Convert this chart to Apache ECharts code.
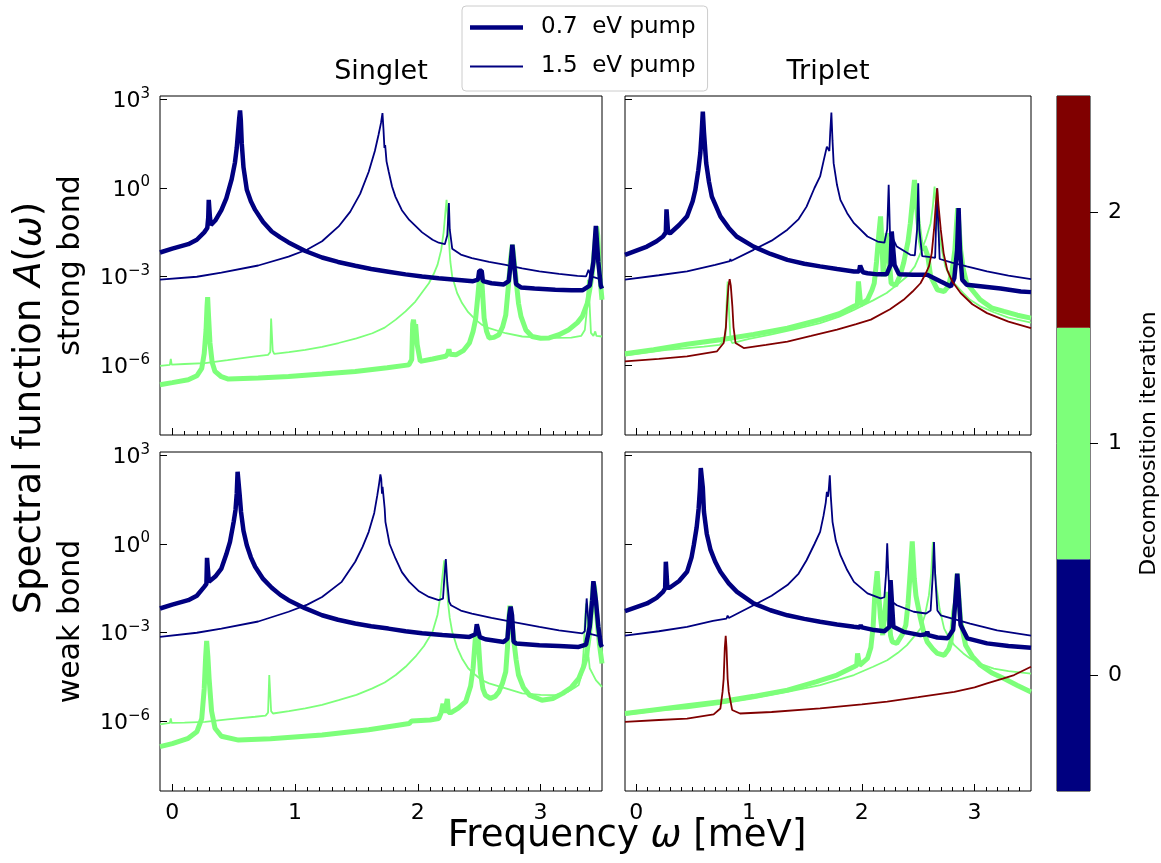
<!DOCTYPE html>
<html><head><meta charset="utf-8">
<script src="https://cdn.jsdelivr.net/npm/echarts@6/dist/echarts.min.js"></script>
<style>html,body{margin:0;padding:0;background:#fff}#c{width:1161px;height:863px}</style>
</head><body><div id="c"></div>
<script>
// ---------- labels / ticks ----------
const panelTitles = ['Singlet', 'Triplet'];
const rowLabels = ['strong bond', 'weak bond'];
const legendNames = ['0.7  eV pump', '1.5  eV pump'];
const xTickValues = [0, 1, 2, 3];
const yTickExponents = [-6, -3, 0, 3];          // log10 A
const colorbarLabels = ['0', '1', '2'];
const colorbarTitle = 'Decomposition iteration';

// ---------- data: [omega (meV), log10 A(omega)] ----------
// strong bond, singlet
const strongSing_07_it0 = [[-0.10,-2.18],[0.00,-2.05],[0.13,-1.90],[0.20,-1.75],[0.26,-1.50],[0.285,-1.35],[0.293,-1.0],[0.297,-0.40],[0.303,-0.40],[0.307,-1.0],[0.315,-1.25],[0.35,-1.10],[0.40,-0.75],[0.44,-0.35],[0.484,0.30],[0.51,0.85],[0.525,1.35],[0.535,1.85],[0.545,2.35],[0.552,2.62],[0.558,2.30],[0.566,1.50],[0.58,0.70],[0.607,-0.06],[0.64,-0.45],[0.675,-0.74],[0.74,-1.15],[0.81,-1.47],[0.88,-1.67],[0.947,-1.84],[1.083,-2.13],[1.22,-2.35],[1.35,-2.50],[1.49,-2.63],[1.62,-2.74],[1.76,-2.83],[1.90,-2.92],[2.035,-2.99],[2.17,-3.05],[2.31,-3.10],[2.45,-3.15],[2.49,-3.10],[2.50,-2.80],[2.52,-2.80],[2.53,-3.15],[2.60,-3.22],[2.70,-3.26],[2.74,-3.15],[2.755,-2.6],[2.77,-1.92],[2.785,-2.6],[2.80,-3.25],[2.84,-3.36],[2.95,-3.40],[3.12,-3.44],[3.25,-3.46],[3.34,-3.46],[3.40,-3.30],[3.43,-2.50],[3.45,-1.28],[3.47,-2.50],[3.49,-3.3],[3.50,-3.4]];
const strongSing_15_it0 = [[-0.10,-3.10],[0.20,-3.0],[0.40,-2.86],[0.70,-2.62],[0.947,-2.32],[1.10,-2.08],[1.22,-1.80],[1.355,-1.30],[1.45,-0.80],[1.53,-0.20],[1.60,0.55],[1.65,1.25],[1.68,1.80],[1.70,2.20],[1.712,2.53],[1.72,2.00],[1.728,1.35],[1.734,1.45],[1.738,1.40],[1.745,0.90],[1.763,0.55],[1.79,0.05],[1.818,-0.30],[1.87,-0.75],[1.93,-1.08],[2.035,-1.50],[2.12,-1.75],[2.17,-1.85],[2.22,-1.90],[2.24,-1.6],[2.253,-0.51],[2.26,-1.4],[2.28,-2.05],[2.35,-2.25],[2.44,-2.37],[2.58,-2.50],[2.716,-2.60],[2.85,-2.72],[2.99,-2.82],[3.15,-2.90],[3.30,-2.97],[3.37,-2.99],[3.39,-2.77],[3.41,-2.99],[3.50,-3.10]];
const strongSing_07_it1 = [[-0.10,-6.65],[0.00,-6.58],[0.13,-6.48],[0.20,-6.35],[0.24,-6.10],[0.26,-5.60],[0.275,-4.80],[0.283,-4.0],[0.288,-3.69],[0.295,-4.3],[0.307,-5.24],[0.325,-5.90],[0.348,-6.20],[0.40,-6.38],[0.457,-6.46],[0.70,-6.42],[0.947,-6.37],[1.22,-6.29],[1.49,-6.20],[1.75,-6.08],[1.927,-5.98],[1.95,-5.8],[1.958,-4.6],[1.965,-4.45],[1.975,-4.9],[1.982,-4.6],[1.988,-4.57],[1.995,-5.3],[2.02,-5.86],[2.12,-5.78],[2.226,-5.69],[2.245,-5.6],[2.253,-5.45],[2.262,-5.62],[2.31,-5.64],[2.37,-5.50],[2.42,-5.24],[2.45,-4.85],[2.47,-4.45],[2.49,-3.60],[2.505,-2.90],[2.515,-2.82],[2.525,-3.40],[2.54,-4.40],[2.56,-4.85],[2.58,-5.07],[2.62,-5.05],[2.66,-4.96],[2.69,-4.70],[2.716,-4.30],[2.74,-3.20],[2.755,-2.40],[2.77,-1.92],[2.785,-2.50],[2.80,-3.10],[2.82,-3.90],[2.84,-4.34],[2.88,-4.80],[2.93,-5.02],[3.00,-5.08],[3.07,-5.07],[3.15,-4.96],[3.23,-4.79],[3.30,-4.55],[3.34,-4.34],[3.38,-3.90],[3.40,-3.44],[3.42,-2.90],[3.44,-2.00],[3.456,-1.30],[3.465,-1.60],[3.475,-2.50],[3.485,-3.10],[3.50,-3.78]];
const strongSing_15_it1 = [[-0.10,-6.01],[-0.02,-5.98],[-0.012,-5.78],[-0.005,-5.97],[0.10,-5.95],[0.267,-5.92],[0.45,-5.82],[0.675,-5.69],[0.78,-5.64],[0.798,-5.55],[0.805,-4.41],[0.812,-4.41],[0.818,-5.50],[0.83,-5.61],[0.95,-5.55],[1.083,-5.47],[1.22,-5.37],[1.355,-5.24],[1.50,-5.08],[1.63,-4.91],[1.73,-4.72],[1.82,-4.45],[1.90,-4.17],[1.98,-3.84],[2.04,-3.50],[2.09,-3.22],[2.13,-2.90],[2.16,-2.60],[2.19,-2.10],[2.21,-1.50],[2.225,-0.80],[2.234,-0.40],[2.243,-0.90],[2.253,-1.75],[2.265,-2.50],[2.28,-2.99],[2.32,-3.55],[2.36,-3.89],[2.41,-4.20],[2.47,-4.45],[2.52,-4.62],[2.58,-4.74],[2.716,-4.91],[2.85,-5.02],[3.00,-5.06],[3.12,-5.07],[3.25,-5.06],[3.33,-5.0],[3.36,-4.80],[3.375,-4.2],[3.385,-3.10],[3.395,-3.6],[3.41,-4.90],[3.43,-5.0],[3.445,-4.85],[3.455,-5.0],[3.50,-5.02]];

// strong bond, triplet
const strongTrip_07_it0 = [[-0.10,-2.26],[0.095,-1.98],[0.18,-1.80],[0.237,-1.64],[0.262,-1.50],[0.268,-0.72],[0.276,-0.72],[0.282,-1.50],[0.30,-1.53],[0.38,-1.25],[0.45,-0.96],[0.50,-0.45],[0.524,-0.06],[0.55,0.60],[0.568,1.18],[0.58,1.90],[0.59,2.58],[0.60,1.90],[0.62,0.84],[0.645,0.20],[0.67,-0.29],[0.746,-0.96],[0.82,-1.35],[0.89,-1.64],[1.04,-1.98],[1.19,-2.23],[1.34,-2.43],[1.49,-2.56],[1.63,-2.65],[1.78,-2.74],[1.93,-2.82],[1.975,-2.82],[1.985,-2.62],[2.00,-2.62],[2.01,-2.85],[2.05,-2.88],[2.14,-2.92],[2.22,-2.92],[2.255,-2.6],[2.265,-1.47],[2.28,-1.47],[2.29,-2.6],[2.33,-2.92],[2.45,-2.93],[2.58,-2.93],[2.70,-3.16],[2.79,-3.33],[2.82,-3.05],[2.845,-2.1],[2.858,-0.68],[2.87,-2.1],[2.89,-3.10],[2.93,-3.27],[3.05,-3.32],[3.23,-3.40],[3.41,-3.50],[3.50,-3.52]];
const strongTrip_15_it0 = [[-0.10,-3.10],[0.20,-2.95],[0.45,-2.82],[0.70,-2.60],[0.83,-2.47],[0.834,-2.40],[0.84,-2.47],[1.04,-2.09],[1.20,-1.78],[1.34,-1.41],[1.44,-1.05],[1.51,-0.63],[1.58,0.0],[1.63,0.39],[1.66,0.90],[1.69,1.40],[1.70,1.40],[1.712,1.25],[1.72,1.90],[1.73,2.55],[1.74,1.60],[1.75,0.84],[1.78,0.10],[1.81,-0.40],[1.87,-0.85],[1.93,-1.19],[2.05,-1.64],[2.14,-1.81],[2.20,-1.85],[2.225,-1.4],[2.238,0.11],[2.25,-1.6],[2.265,-1.75],[2.272,-1.6],[2.28,-1.75],[2.31,-1.98],[2.43,-2.26],[2.47,-2.28],[2.49,-1.4],[2.50,0.16],[2.51,-1.4],[2.535,-2.30],[2.61,-2.34],[2.65,-2.36],[2.66,-1.0],[2.668,-0.01],[2.676,-1.0],[2.69,-2.40],[2.80,-2.52],[2.93,-2.65],[3.11,-2.82],[3.30,-2.96],[3.50,-3.08]];
const strongTrip_07_it1 = [[-0.10,-5.60],[0.154,-5.47],[0.45,-5.28],[0.746,-5.13],[1.04,-4.95],[1.34,-4.74],[1.63,-4.45],[1.80,-4.25],[1.93,-4.0],[1.96,-3.95],[1.97,-3.16],[1.98,-3.16],[1.99,-3.95],[2.05,-3.78],[2.09,-3.45],[2.11,-3.22],[2.13,-2.50],[2.15,-1.60],[2.166,-0.96],[2.175,-1.6],[2.19,-2.99],[2.205,-2.3],[2.225,-1.53],[2.24,-2.3],[2.26,-3.22],[2.30,-3.30],[2.34,-2.95],[2.37,-2.54],[2.41,-1.80],[2.43,-1.19],[2.45,-0.40],[2.467,0.27],[2.48,-0.40],[2.50,-1.19],[2.52,-1.80],[2.535,-2.09],[2.555,-1.98],[2.57,-1.98],[2.585,-2.30],[2.61,-2.99],[2.67,-3.44],[2.73,-3.50],[2.77,-3.30],[2.80,-2.80],[2.825,-2.09],[2.84,-1.2],[2.85,-0.68],[2.86,-1.2],[2.876,-2.09],[2.90,-2.75],[2.93,-3.22],[3.00,-3.55],[3.05,-3.78],[3.15,-4.05],[3.26,-4.17],[3.38,-4.30],[3.50,-4.40]];
const strongTrip_15_it1 = [[-0.10,-5.67],[0.25,-5.48],[0.60,-5.36],[0.74,-5.30],[0.79,-5.1],[0.80,-4.0],[0.81,-3.16],[0.82,-4.0],[0.835,-5.1],[0.85,-5.24],[1.00,-5.10],[1.19,-4.96],[1.40,-4.78],[1.63,-4.57],[1.80,-4.35],[1.93,-4.12],[2.10,-3.80],[2.22,-3.55],[2.32,-3.25],[2.40,-2.99],[2.47,-2.65],[2.52,-2.20],[2.57,-1.70],[2.61,-1.19],[2.63,-0.60],[2.645,0.05],[2.66,-0.70],[2.68,-1.41],[2.71,-2.10],[2.74,-2.65],[2.78,-3.00],[2.82,-3.22],[2.90,-3.55],[2.96,-3.78],[3.05,-4.0],[3.17,-4.20],[3.30,-4.38],[3.50,-4.55]];
const strongTrip_it2 = [[-0.10,-5.86],[0.20,-5.78],[0.45,-5.69],[0.716,-5.52],[0.775,-5.24],[0.795,-4.70],[0.805,-4.0],[0.818,-3.30],[0.828,-3.08],[0.838,-3.30],[0.852,-4.0],[0.862,-4.70],[0.88,-5.24],[0.953,-5.41],[1.15,-5.30],[1.34,-5.19],[1.55,-5.00],[1.78,-4.79],[1.95,-4.60],[2.08,-4.45],[2.25,-4.10],[2.37,-3.78],[2.45,-3.50],[2.52,-3.22],[2.565,-2.90],[2.595,-2.65],[2.62,-2.20],[2.64,-1.41],[2.655,-0.60],[2.668,-0.01],[2.68,-0.60],[2.70,-1.41],[2.725,-2.20],[2.757,-2.77],[2.80,-3.15],[2.876,-3.55],[2.98,-3.93],[3.11,-4.23],[3.30,-4.52],[3.50,-4.74]];

// weak bond, singlet
const weakSing_07_it0 = [[-0.10,-2.18],[0.00,-2.05],[0.13,-1.90],[0.20,-1.75],[0.26,-1.45],[0.278,-1.35],[0.283,-0.47],[0.292,-0.47],[0.298,-1.28],[0.307,-1.28],[0.35,-1.10],[0.40,-0.83],[0.44,-0.35],[0.47,0.07],[0.50,0.75],[0.515,1.15],[0.525,1.70],[0.532,2.44],[0.54,2.44],[0.548,1.70],[0.56,1.08],[0.58,0.45],[0.607,-0.04],[0.64,-0.45],[0.675,-0.77],[0.74,-1.18],[0.81,-1.48],[0.88,-1.72],[0.947,-1.90],[1.08,-2.17],[1.22,-2.41],[1.35,-2.56],[1.49,-2.69],[1.62,-2.78],[1.76,-2.86],[1.90,-2.95],[2.035,-3.02],[2.20,-3.08],[2.42,-3.14],[2.47,-3.05],[2.48,-2.71],[2.495,-2.71],[2.505,-3.15],[2.55,-3.22],[2.70,-3.31],[2.73,-3.20],[2.745,-2.4],[2.756,-2.12],[2.767,-2.4],[2.78,-3.30],[2.80,-3.36],[2.99,-3.42],[3.15,-3.45],[3.31,-3.48],[3.37,-3.40],[3.40,-2.8],[3.42,-1.9],[3.43,-1.26],[3.44,-1.26],[3.45,-1.9],[3.47,-2.8],[3.49,-3.4],[3.50,-3.48]];
const weakSing_15_it0 = [[-0.10,-3.14],[0.20,-3.00],[0.40,-2.86],[0.70,-2.62],[0.947,-2.29],[1.10,-2.05],[1.22,-1.79],[1.38,-1.28],[1.49,-0.60],[1.55,-0.10],[1.60,0.41],[1.645,1.05],[1.67,1.65],[1.685,2.05],[1.695,2.35],[1.702,2.20],[1.708,1.70],[1.713,1.93],[1.72,1.90],[1.73,1.20],[1.736,0.75],[1.77,0.0],[1.818,-0.49],[1.87,-0.95],[1.93,-1.28],[2.01,-1.60],[2.09,-1.79],[2.17,-1.90],[2.205,-1.85],[2.215,-1.2],[2.228,-0.51],[2.24,-1.3],[2.255,-1.95],[2.27,-2.07],[2.35,-2.25],[2.44,-2.35],[2.60,-2.50],[2.77,-2.63],[2.99,-2.80],[3.15,-2.92],[3.34,-3.02],[3.36,-2.95],[3.375,-1.84],[3.385,-1.84],[3.395,-2.95],[3.41,-3.05],[3.50,-3.14]];
const weakSing_07_it1 = [[-0.10,-6.85],[0.00,-6.75],[0.13,-6.57],[0.20,-6.35],[0.24,-5.90],[0.26,-4.90],[0.272,-3.80],[0.28,-3.28],[0.29,-3.80],[0.30,-4.55],[0.32,-5.65],[0.348,-6.23],[0.40,-6.50],[0.54,-6.63],[0.80,-6.58],[1.22,-6.46],[1.60,-6.28],[1.93,-6.07],[1.95,-5.98],[1.96,-6.02],[2.10,-5.95],[2.17,-5.90],[2.19,-5.70],[2.205,-5.40],[2.215,-5.70],[2.23,-5.45],[2.24,-5.24],[2.25,-5.70],[2.27,-5.70],[2.33,-5.55],[2.39,-5.33],[2.43,-4.80],[2.45,-4.20],[2.47,-3.10],[2.484,-2.80],[2.495,-3.40],[2.51,-4.35],[2.53,-4.90],[2.55,-5.11],[2.59,-5.22],[2.63,-5.15],[2.66,-5.00],[2.69,-4.70],[2.716,-4.32],[2.73,-3.50],[2.74,-2.60],[2.75,-2.09],[2.765,-2.60],[2.78,-3.20],[2.80,-3.90],[2.82,-4.43],[2.86,-4.85],[2.91,-5.11],[3.01,-5.28],[3.10,-5.22],[3.18,-5.05],[3.25,-4.85],[3.31,-4.55],[3.35,-4.15],[3.37,-3.87],[3.39,-3.30],[3.40,-2.97],[3.415,-2.2],[3.43,-1.30],[3.44,-1.5],[3.455,-2.3],[3.47,-3.0],[3.48,-3.42],[3.50,-4.04]];
const weakSing_15_it1 = [[-0.10,-6.10],[-0.02,-6.05],[-0.012,-5.90],[-0.005,-6.05],[0.10,-6.04],[0.267,-6.01],[0.45,-5.93],[0.675,-5.84],[0.76,-5.80],[0.78,-5.70],[0.79,-4.43],[0.797,-4.43],[0.805,-5.65],[0.82,-5.73],[0.95,-5.65],[1.083,-5.56],[1.22,-5.44],[1.355,-5.28],[1.50,-5.10],[1.63,-4.88],[1.73,-4.68],[1.82,-4.43],[1.90,-4.15],[1.98,-3.81],[2.05,-3.45],[2.12,-2.97],[2.16,-2.40],[2.185,-1.73],[2.20,-1.10],[2.215,-0.55],[2.23,-1.10],[2.245,-1.95],[2.26,-2.50],[2.28,-2.97],[2.32,-3.50],[2.36,-3.87],[2.41,-4.20],[2.47,-4.43],[2.52,-4.60],[2.58,-4.71],[2.716,-4.88],[2.85,-5.05],[3.00,-5.10],[3.12,-5.11],[3.22,-5.00],[3.28,-4.85],[3.31,-4.77],[3.335,-4.40],[3.35,-3.64],[3.36,-2.70],[3.37,-2.01],[3.38,-2.70],[3.39,-3.80],[3.40,-4.20],[3.41,-4.25],[3.415,-4.15],[3.425,-4.40],[3.45,-4.60],[3.50,-4.83]];

// weak bond, triplet
const weakTrip_07_it0 = [[-0.10,-2.27],[0.095,-2.01],[0.18,-1.82],[0.237,-1.62],[0.256,-1.50],[0.262,-0.60],[0.27,-0.60],[0.276,-1.48],[0.296,-1.48],[0.38,-1.25],[0.45,-0.94],[0.49,-0.45],[0.51,-0.04],[0.535,0.55],[0.553,1.20],[0.565,1.90],[0.572,2.57],[0.582,2.57],[0.59,1.90],[0.60,1.09],[0.625,0.35],[0.657,-0.18],[0.70,-0.60],[0.746,-0.94],[0.82,-1.33],[0.893,-1.62],[1.04,-2.01],[1.19,-2.24],[1.34,-2.41],[1.49,-2.53],[1.63,-2.63],[1.78,-2.72],[1.93,-2.80],[1.98,-2.82],[1.99,-2.75],[2.00,-2.82],[2.11,-2.91],[2.20,-2.95],[2.245,-2.80],[2.255,-1.22],[2.268,-1.22],[2.28,-2.80],[2.37,-2.97],[2.52,-3.08],[2.57,-3.05],[2.58,-2.97],[2.59,-3.08],[2.67,-3.16],[2.76,-3.19],[2.81,-2.90],[2.835,-1.6],[2.846,-1.00],[2.857,-1.6],[2.876,-2.74],[2.935,-3.19],[3.11,-3.36],[3.30,-3.45],[3.50,-3.51]];
const weakTrip_15_it0 = [[-0.10,-3.10],[0.20,-2.95],[0.45,-2.80],[0.68,-2.60],[0.80,-2.52],[0.81,-2.42],[0.82,-2.50],[1.04,-2.07],[1.20,-1.75],[1.34,-1.39],[1.44,-1.00],[1.51,-0.55],[1.58,0.0],[1.63,0.41],[1.66,0.95],[1.68,1.40],[1.69,1.76],[1.70,1.60],[1.708,1.90],[1.716,2.32],[1.725,1.60],[1.74,0.75],[1.77,0.10],[1.81,-0.38],[1.87,-0.88],[1.93,-1.28],[2.05,-1.67],[2.166,-1.84],[2.20,-1.80],[2.215,-1.0],[2.225,0.02],[2.235,-1.0],[2.25,-1.90],[2.31,-2.07],[2.46,-2.29],[2.57,-2.35],[2.61,-2.25],[2.63,-1.0],[2.64,0.07],[2.65,-1.0],[2.67,-2.25],[2.70,-2.41],[2.96,-2.69],[3.20,-2.92],[3.50,-3.10]];
const weakTrip_07_it1 = [[-0.10,-5.73],[0.154,-5.61],[0.45,-5.47],[0.746,-5.33],[1.04,-5.15],[1.34,-4.94],[1.60,-4.65],[1.78,-4.43],[1.93,-4.15],[1.955,-4.10],[1.962,-3.70],[1.97,-3.70],[1.98,-4.10],[2.05,-3.87],[2.08,-3.50],[2.10,-2.80],[2.115,-1.73],[2.136,-0.92],[2.15,-1.73],[2.166,-2.50],[2.185,-3.08],[2.205,-2.30],[2.222,-1.62],[2.235,-2.20],[2.255,-3.10],[2.27,-3.31],[2.31,-3.36],[2.36,-3.05],[2.39,-2.74],[2.41,-2.00],[2.425,-1.17],[2.447,0.09],[2.465,-1.17],[2.48,-1.75],[2.52,-2.52],[2.55,-3.00],[2.58,-3.31],[2.63,-3.55],[2.67,-3.70],[2.73,-3.76],[2.77,-3.55],[2.79,-3.31],[2.805,-2.70],[2.815,-2.29],[2.83,-2.00],[2.846,-1.00],[2.86,-1.8],[2.876,-2.60],[2.92,-3.42],[2.98,-3.80],[3.05,-4.09],[3.15,-4.35],[3.26,-4.55],[3.38,-4.78],[3.50,-5.00]];
const weakTrip_15_it1 = [[-0.10,-5.78],[0.20,-5.62],[0.45,-5.56],[0.75,-5.40],[1.04,-5.22],[1.34,-5.00],[1.63,-4.77],[1.93,-4.43],[2.10,-4.15],[2.225,-3.93],[2.32,-3.68],[2.40,-3.42],[2.47,-3.10],[2.52,-2.86],[2.56,-2.40],[2.595,-1.73],[2.615,-1.00],[2.63,0.07],[2.645,-0.80],[2.66,-1.39],[2.69,-2.20],[2.73,-2.86],[2.78,-3.22],[2.82,-3.42],[2.90,-3.70],[2.96,-3.87],[3.05,-4.05],[3.17,-4.21],[3.30,-4.30],[3.50,-4.38]];
const weakTrip_it2 = [[-0.10,-6.01],[0.20,-5.95],[0.45,-5.90],[0.686,-5.76],[0.746,-5.56],[0.765,-5.00],[0.775,-4.55],[0.785,-3.50],[0.793,-3.10],[0.80,-3.50],[0.81,-4.55],[0.82,-5.00],[0.85,-5.61],[0.92,-5.73],[1.20,-5.68],[1.63,-5.56],[2.00,-5.42],[2.225,-5.33],[2.50,-5.18],[2.82,-5.00],[3.00,-4.85],[3.11,-4.71],[3.25,-4.55],[3.35,-4.43],[3.50,-4.15]];

// ---------- style ----------
const FONT = 'DejaVu Sans';
const C0 = '#000080', C1 = '#7dff7a', C2 = '#800000';
const THICK = 4.5, THIN = 1.8;

const grids = [
  {left:160, top:96, width:442, height:339},
  {left:625, top:96, width:406, height:339},
  {left:160, top:452, width:442, height:339},
  {left:625, top:452, width:406, height:339}
];
const minorX = [];
for (let k = 1; k <= 34; k++) if (k % 10 !== 0) minorX.push(k / 10);

const xAxes = [], yAxes = [];
grids.forEach((g, i) => {
  const bottom = i >= 2, left = i % 2 === 0;
  xAxes.push({gridIndex:i, type:'value', min:-0.1, max:3.5, position:'bottom', axisLine:{show:false, onZero:false}, splitLine:{show:false},
    axisTick:{show:true, inside:true, length:7, customValues:xTickValues, lineStyle:{color:'#000', width:1}},
    axisLabel:{show:bottom, customValues:xTickValues, margin:11, fontSize:22, fontFamily:FONT, color:'#000'}});
  yAxes.push({gridIndex:i, type:'value', min:-8.35, max:3.11, position:'left', axisLine:{show:false, onZero:false}, splitLine:{show:false},
    axisTick:{show:true, inside:true, length:7, customValues:yTickExponents, lineStyle:{color:'#000', width:1}},
    axisLabel:{show:left, customValues:yTickExponents, margin:10,
      formatter: v => '{b|10}{s|' + (v < 0 ? '\u2212' + Math.abs(v) : v) + '}',
      rich:{b:{fontSize:22, fontFamily:FONT, color:'#000', lineHeight:26, verticalAlign:'bottom'},
            s:{fontSize:15, fontFamily:FONT, color:'#000', lineHeight:14, verticalAlign:'top'}}},
    name: left ? rowLabels[bottom ? 1 : 0] : '', nameLocation:'middle', nameGap:74,
    nameTextStyle:{fontSize:30, fontFamily:FONT, color:'#000'}});
});
grids.forEach((g, i) => {
  xAxes.push({gridIndex:i, type:'value', min:-0.1, max:3.5, position:'bottom', axisLine:{show:false, onZero:false}, splitLine:{show:false},
    axisTick:{show:true, inside:true, length:4, customValues:minorX, lineStyle:{color:'#000', width:1}},
    axisLabel:{show:false}});
});
// colorbar grid (index 4); its x axis is xAxes[8]
const cbGrid = {left:1057, top:96, width:35, height:695};
xAxes.push({gridIndex:4, type:'value', min:0, max:1, show:false});
yAxes.push({gridIndex:4, type:'category', data:colorbarLabels, position:'right', axisLine:{show:false, onZero:false},
  axisTick:{show:true, alignWithLabel:true, length:8, lineStyle:{color:'#000', width:1}},
  axisLabel:{margin:18, fontSize:22, fontFamily:FONT, color:'#000'},
  name:colorbarTitle, nameLocation:'middle', nameGap:48, nameRotate:90,
  nameTextStyle:{fontSize:22, fontFamily:FONT, color:'#000'}});

function line(i, name, data, color, width) {
  return {type:'line', name, xAxisIndex:i, yAxisIndex:i, data, color, showSymbol:false, symbol:'none',
    lineStyle:{color, width}, itemStyle:{color}, animation:false, silent:true, clip:true};
}
const panels = [
  [strongSing_07_it0, strongSing_15_it0, strongSing_07_it1, strongSing_15_it1, null],
  [strongTrip_07_it0, strongTrip_15_it0, strongTrip_07_it1, strongTrip_15_it1, strongTrip_it2],
  [weakSing_07_it0, weakSing_15_it0, weakSing_07_it1, weakSing_15_it1, null],
  [weakTrip_07_it0, weakTrip_15_it0, weakTrip_07_it1, weakTrip_15_it1, weakTrip_it2]
];
const series = [];
panels.forEach((p, i) => {
  series.push(line(i, 'it1 0.7', p[2], C1, THICK + 0.5));
  series.push(line(i, 'it1 1.5', p[3], C1, THIN));
  series.push(line(i, legendNames[0], p[0], C0, THICK));
  series.push(line(i, legendNames[1], p[1], C0, THIN));
  if (p[4]) series.push(line(i, 'it2', p[4], C2, THIN));
});
series.push({type:'bar', name:'colorbar', xAxisIndex:8, yAxisIndex:4, barWidth:'100%', barCategoryGap:'0%', animation:false, silent:true,
  data:[{value:1, itemStyle:{color:C0}}, {value:1, itemStyle:{color:C1}}, {value:1, itemStyle:{color:C2}}]});

const gridOpts = grids.concat([cbGrid]).map(g => Object.assign({show:true, borderColor:'#000', borderWidth:1, backgroundColor:'transparent'}, g));

const chart = echarts.init(document.getElementById('c'), null, {renderer:'canvas'});
chart.setOption({
  backgroundColor:'#fff',
  animation:false,
  grid: gridOpts,
  xAxis: xAxes,
  yAxis: yAxes,
  series,
  legend:{orient:'vertical', left:462, top:6, padding:[10,12,13,8], itemGap:16, itemWidth:53, itemHeight:14,
    borderColor:'#cccccc', borderWidth:1, borderRadius:4, backgroundColor:'#fff', selectedMode:false,
    textStyle:{fontSize:23, fontFamily:FONT, color:'#000', padding:[0,0,0,13]},
    data:[{name:legendNames[0], icon:'path://M0,0H530V45H0Z'}, {name:legendNames[1], icon:'path://M0,0H530V18H0Z'}]},
  graphic:[
    {type:'text', x:381, y:72, style:{text:panelTitles[0], fontSize:27, fontFamily:FONT, fill:'#000', align:'center', verticalAlign:'middle'}},
    {type:'text', x:828, y:72, style:{text:panelTitles[1], fontSize:27, fontFamily:FONT, fill:'#000', align:'center', verticalAlign:'middle'}},
    {type:'text', x:30, y:408, rotation:Math.PI/2, style:{text:'{n|Spectral function }{i|A}{n|(}{i|\u03c9}{n|)}', align:'center', verticalAlign:'middle',
      rich:{n:{fontSize:37, fontFamily:FONT, fill:'#000'}, i:{fontSize:37, fontFamily:FONT, fontStyle:'italic', fill:'#000'}}}},
    {type:'text', x:627, y:836, style:{text:'{n|Frequency }{i|\u03c9}{n| [meV]}', align:'center', verticalAlign:'middle',
      rich:{n:{fontSize:37, fontFamily:FONT, fill:'#000'}, i:{fontSize:37, fontFamily:FONT, fontStyle:'italic', fill:'#000'}}}}
  ]
});
</script></body></html>
